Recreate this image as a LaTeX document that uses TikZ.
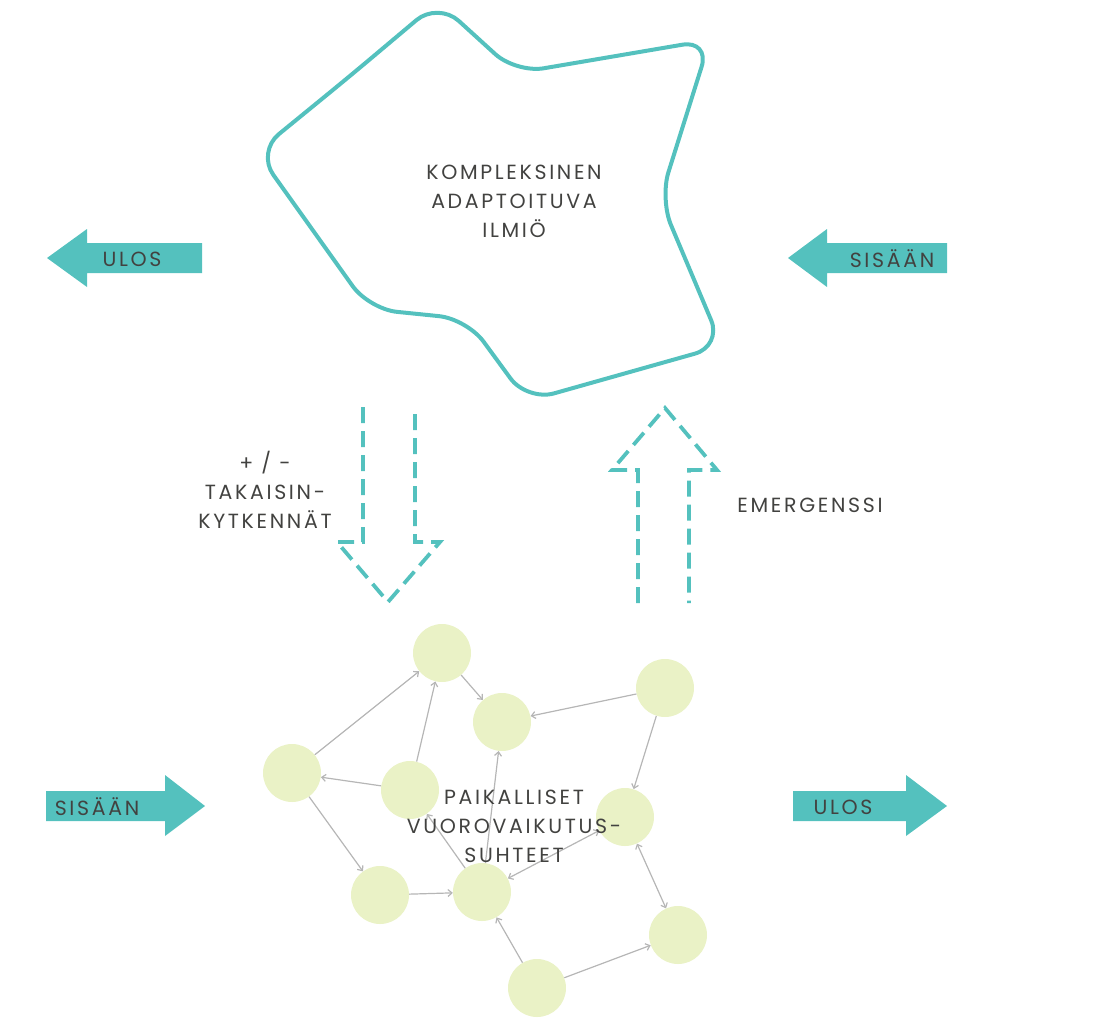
\documentclass[tikz,border=0pt]{standalone}
\usepackage{fontspec}
\setmainfont{Poppins}
\newfontfamily\lblfont{Poppins}[LetterSpace=13]
\usetikzlibrary{arrows.meta}
\definecolor{tealc}{RGB}{84,193,190}
\definecolor{dotc}{RGB}{234,242,198}
\definecolor{txtc}{RGB}{66,66,64}
\definecolor{lnkc}{RGB}{182,182,182}

\begin{document}
\begin{tikzpicture}[x=1pt,y=-1pt,>={Straight Barb[length=4pt,width=7pt]},
  lbl/.style={text=txtc,font=\lblfont\fontsize{20.5}{29}\selectfont,align=center,inner sep=0pt},
  blk/.style={fill=tealc},
  dsh/.style={tealc,line width=3.8pt,dash pattern=on 16pt off 8pt},
  dot/.style={circle,fill=dotc,minimum size=58pt,inner sep=0pt},
  lnk/.style={lnkc,line width=1.2pt,->}]
  \useasboundingbox (0,0) rectangle (1102,1017);
  % the phenomenon
  \draw[tealc,line width=4pt,rounded corners=28pt] (350,76) -- (438,2) -- (516,73) -- (710,40)
    -- (660,199) -- (722,346) -- (527,401) -- (467,319) -- (369,309) -- (257,152) -- cycle;
  \node[lbl] (ilmio) at (514,201) {KOMPLEKSINEN\\ADAPTOITUVA\\ILMIÖ};
  % in and out
  \fill[blk] (202,243) -- (87,243) -- (87,229) -- (47,258) -- (87,287) -- (87,273) -- (202,273) -- cycle;
  \node[lbl] (ulos1) at (132,259) {ULOS};
  \fill[blk] (947,243) -- (827,243) -- (827,229) -- (788,258) -- (827,287) -- (827,273) -- (947,273) -- cycle;
  \node[lbl] (sisaan1) at (892,259) {SISÄÄN};
  \fill[blk] (46,791) -- (165,791) -- (165,775) -- (205,806) -- (165,836) -- (165,821) -- (46,821) -- cycle;
  \node[lbl] (sisaan2) at (97,807) {SISÄÄN};
  \fill[blk] (793,791) -- (906,791) -- (906,775) -- (947,806) -- (906,836) -- (906,821) -- (793,821) -- cycle;
  \node[lbl] (ulos2) at (843,807) {ULOS};
  % feedback and emergence
  \draw[dsh] (363,407) -- (363,542) -- (337,542) -- (388,602) -- (440,542) -- (415,542) -- (415,407);
  \draw[dsh] (638,603) -- (638,470) -- (612,470) -- (665,408) -- (717,470) -- (689,470) -- (689,603);
  \node[lbl] (palaute) at (265,490) {+ / -\\TAKAISIN-\\KYTKENNÄT};
  \node[lbl] (emerg) at (810,505) {EMERGENSSI};
  % local interactions
  \node[dot] (a) at (442,653) {};
  \node[dot] (b) at (502,722) {};
  \node[dot] (c) at (665,688) {};
  \node[dot] (d) at (292,773) {};
  \node[dot] (e) at (410,790) {};
  \node[dot] (f) at (625,817) {};
  \node[dot] (g) at (380,895) {};
  \node[dot] (h) at (482,892) {};
  \node[dot] (i) at (678,935) {};
  \node[dot] (j) at (537,988) {};
  \foreach \s/\t in {d/a,e/a,a/b,c/b,e/d,h/b,h/e,c/f,d/g,g/h,j/h,j/i}
    \draw[lnk] (\s) -- (\t);
  \draw[lnk,<->] (f) -- (h);
  \draw[lnk,<->] (f) -- (i);
  \node[lbl] (paik) at (514,826) {PAIKALLISET\\VUOROVAIKUTUS-\\SUHTEET};
\end{tikzpicture}
\end{document}
